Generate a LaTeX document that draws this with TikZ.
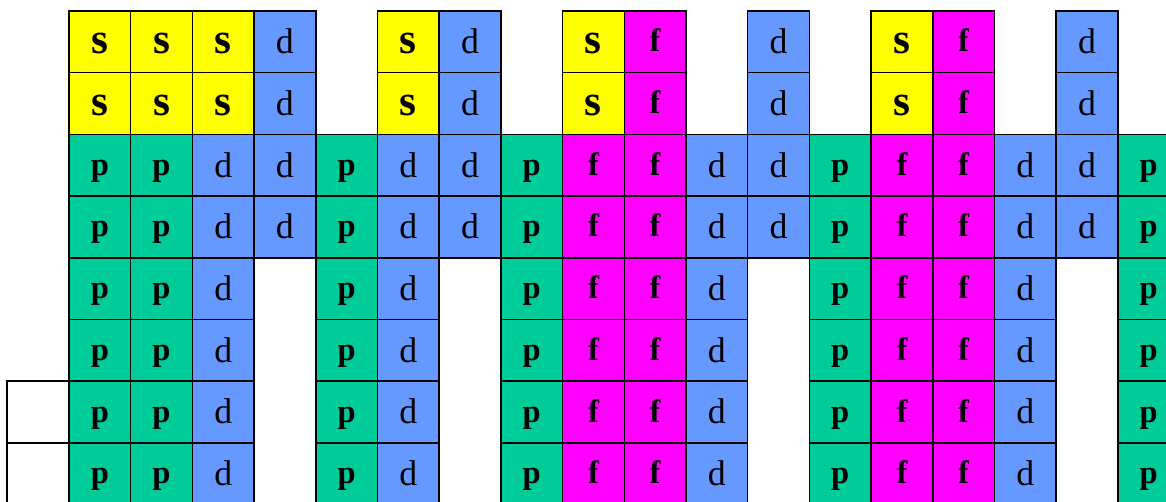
\documentclass[tikz,border=0pt]{standalone}
\usepackage{fontspec}
\setmainfont{Liberation Serif}

\definecolor{sYellow}{HTML}{FFFF00}
\definecolor{pGreen}{HTML}{00CC99}
\definecolor{dBlue}{HTML}{6699FF}
\definecolor{fMagenta}{HTML}{FF00FF}

\begin{document}
\begin{tikzpicture}[
x=1cm, y=-1cm,
every node/.style={
draw,
line width=0.7pt,
minimum size=1cm,
inner sep=0pt
},
s cell/.style={fill=sYellow, font=\fontsize{20}{21}\selectfont\bfseries,
text height=18pt, text depth=7pt},
p cell/.style={fill=pGreen, font=\fontsize{15}{16}\selectfont\bfseries,
text height=16pt, text depth=6.8pt},
d cell/.style={fill=dBlue, font=\fontsize{16.5}{18}\selectfont,
text height=18pt, text depth=7pt},
f cell/.style={fill=fMagenta, font=\fontsize{15}{16}\selectfont\bfseries,
text height=16pt, text depth=6.8pt}
]

\useasboundingbox (0,0) rectangle (18.898,8.136);
\clip (0,0) rectangle (18.898,8.136);

% blocks, column by column (x = empty place)
\foreach \c/\list in {
0/{s,s,p,p,p,p,p,p},
1/{s,s,p,p,p,p,p,p},
2/{s,s,d,d,d,d,d,d},
3/{d,d,d,d},
4/{x,x,p,p,p,p,p,p},
5/{s,s,d,d,d,d,d,d},
6/{d,d,d,d},
7/{x,x,p,p,p,p,p,p},
8/{s,s,f,f,f,f,f,f},
9/{f,f,f,f,f,f,f,f},
10/{x,x,d,d,d,d,d,d},
11/{d,d,d,d},
12/{x,x,p,p,p,p,p,p},
13/{s,s,f,f,f,f,f,f},
14/{f,f,f,f,f,f,f,f},
15/{x,x,d,d,d,d,d,d},
16/{d,d,d,d},
17/{x,x,p,p,p,p,p,p}}
{
\foreach \t [count=\r from 0] in \list {
\if x\t\else
\node[\t\space cell] (c\c-\r) at (1.618+\c,0.678+\r)
{\t};
\fi
}
}

% empty boxes on the left
\node (blankA) at (0.615,6.678) {};
\node (blankB) at (0.615,7.678) {};

\end{tikzpicture}
\end{document}
